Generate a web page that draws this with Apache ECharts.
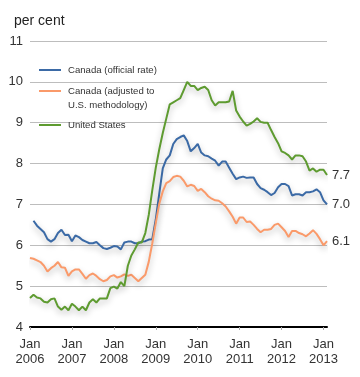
<!DOCTYPE html>
<html>
<head>
<meta charset="utf-8">
<script src="https://cdn.jsdelivr.net/npm/echarts@6/dist/echarts.min.js"></script>
<style>
html,body{margin:0;padding:0;background:#fff;}
#chart{width:360px;height:377px;}
</style>
</head>
<body>
<div id="chart"></div>
<script>
// Monthly categories Jan 2006 .. Feb 2013
const months = [];
for (let y = 2006; y <= 2013; y++) {
  for (let m = 1; m <= 12; m++) {
    if (y === 2013 && m > 2) break;
    months.push(y + '-' + (m < 10 ? '0' + m : m));
  }
}
const yTicks = [4, 5, 6, 7, 8, 9, 10, 11];

const canadaOfficial = [null, 6.6, 6.48, 6.4, 6.32, 6.15, 6.09, 6.15, 6.3, 6.38, 6.25, 6.26,
 6.1, 6.24, 6.2, 6.13, 6.09, 6.05, 6.05, 6.08, 6.0, 5.93, 5.91, 5.94,
 5.98, 5.97, 5.9, 6.07, 6.09, 6.09, 6.05, 6.05, 6.09, 6.1, 6.14, 6.15,
 6.63, 7.27, 7.88, 8.1, 8.2, 8.48, 8.6, 8.65, 8.69, 8.55, 8.3, 8.38,
 8.48, 8.27, 8.2, 8.18, 8.12, 8.07, 7.95, 8.05, 8.05, 7.9, 7.75, 7.62,
 7.66, 7.68, 7.65, 7.66, 7.66, 7.5, 7.4, 7.36, 7.3, 7.23, 7.28, 7.42,
 7.5, 7.5, 7.45, 7.22, 7.25, 7.25, 7.22, 7.3, 7.3, 7.32, 7.37, 7.3,
 7.1, 7.0];

const canadaAdjusted = [5.69, 5.67, 5.63, 5.59, 5.5, 5.36, 5.44, 5.5, 5.59, 5.46, 5.45, 5.25,
 5.36, 5.41, 5.41, 5.3, 5.18, 5.27, 5.31, 5.25, 5.17, 5.12, 5.15, 5.24,
 5.27, 5.21, 5.24, 5.29, 5.25, 5.28, 5.2, 5.12, 5.2, 5.28, 5.6, 6.05,
 6.55, 7.02, 7.32, 7.52, 7.57, 7.67, 7.7, 7.68, 7.58, 7.44, 7.48, 7.45,
 7.33, 7.38, 7.3, 7.2, 7.14, 7.1, 7.09, 7.03, 6.95, 6.83, 6.7, 6.53,
 6.68, 6.68, 6.57, 6.58, 6.5, 6.4, 6.32, 6.38, 6.38, 6.4, 6.5, 6.53,
 6.44, 6.35, 6.2, 6.35, 6.35, 6.3, 6.27, 6.22, 6.29, 6.37, 6.28, 6.15,
 6.0, 6.1];

const unitedStates = [4.71, 4.79, 4.72, 4.7, 4.62, 4.6, 4.68, 4.7, 4.5, 4.42, 4.5, 4.41,
 4.57, 4.5, 4.41, 4.5, 4.41, 4.6, 4.68, 4.6, 4.7, 4.7, 4.7, 4.95,
 4.99, 4.94, 5.1, 5.0, 5.5, 5.75, 5.9, 6.07, 6.07, 6.3, 6.75, 7.35,
 7.9, 8.35, 8.75, 9.1, 9.45, 9.5, 9.55, 9.6, 9.8, 10.0, 9.9, 9.9,
 9.8, 9.85, 9.88, 9.8, 9.55, 9.42, 9.5, 9.5, 9.5, 9.52, 9.78, 9.3,
 9.15, 9.03, 8.93, 8.97, 9.03, 9.11, 9.02, 9.0, 9.0, 8.82, 8.65, 8.5,
 8.3, 8.26, 8.2, 8.1, 8.2, 8.2, 8.18, 8.05, 7.83, 7.88, 7.8, 7.85,
 7.85, 7.72];

const seriesNames = ['Canada (official rate)', 'Canada (adjusted to U.S. methodology)', 'United States'];
const colors = ['#3b6aa6', '#fa9a6a', '#5e9b30'];
const FONT = "'Liberation Sans', Arial, Helvetica, sans-serif";

const chart = echarts.init(document.getElementById('chart'), null, {renderer: 'canvas'});

function mkSeries(name, data, color) {
  return {
    name: name,
    type: 'line',
    data: data,
    symbol: 'none',
    showSymbol: false,
    color: color,
    lineStyle: {
      width: 2, color: color,
      shadowColor: 'rgba(0,0,0,0.28)', shadowBlur: 6, shadowOffsetY: 3
    },
    endLabel: {
      show: true,
      distance: 5,
      color: '#333',
      fontSize: 13,
      fontFamily: FONT,
      formatter: function (p) { return Number(p.value).toFixed(1); }
    },
    emphasis: {disabled: true}
  };
}

const legendBase = {
  orient: 'vertical',
  icon: 'rect',
  itemWidth: 22,
  itemHeight: 2,
  padding: 0,
  selectedMode: false,
  textStyle: {fontSize: 9.6, fontFamily: FONT, color: '#333', lineHeight: 14, padding: [0, 0, 0, 2]}
};

const option = {
  animation: false,
  backgroundColor: '#fff',
  title: {
    text: 'per cent',
    left: 9,
    top: 9,
    textStyle: {fontSize: 14, fontWeight: 'normal', color: '#222', fontFamily: FONT}
  },
  legend: [
    Object.assign({}, legendBase, {left: 39, top: 63, data: [seriesNames[0]]}),
    Object.assign({}, legendBase, {
      left: 39, top: 70, data: [seriesNames[1]],
      formatter: function () { return ' \nCanada (adjusted to\nU.S. methodology)'; }
    }),
    Object.assign({}, legendBase, {left: 39, top: 118, data: [seriesNames[2]]})
  ],
  grid: {left: 30, right: 33, top: 41, bottom: 50, containLabel: false},
  xAxis: {
    type: 'category',
    data: months,
    boundaryGap: false,
    axisLine: {show: true, lineStyle: {color: '#000', width: 2}},
    axisTick: {
      show: true, length: 3,
      interval: function (i) { return i % 12 === 0; },
      lineStyle: {color: '#aaa'}
    },
    axisLabel: {
      interval: function (i) { return i % 12 === 0; },
      formatter: function (v) { return 'Jan\n' + v.slice(0, 4); },
      margin: 10,
      fontSize: 13,
      lineHeight: 15,
      color: '#333',
      fontFamily: FONT
    },
    splitLine: {show: false}
  },
  yAxis: {
    type: 'value',
    min: yTicks[0],
    max: yTicks[yTicks.length - 1],
    interval: 1,
    axisLine: {show: false},
    axisTick: {show: false},
    axisLabel: {margin: 7, fontSize: 13, color: '#333', fontFamily: FONT},
    splitLine: {show: true, lineStyle: {color: '#bdbdbd', width: 1}}
  },
  series: [
    mkSeries(seriesNames[0], canadaOfficial, colors[0]),
    mkSeries(seriesNames[1], canadaAdjusted, colors[1]),
    mkSeries(seriesNames[2], unitedStates, colors[2])
  ]
};
chart.setOption(option);
</script>
</body>
</html>
